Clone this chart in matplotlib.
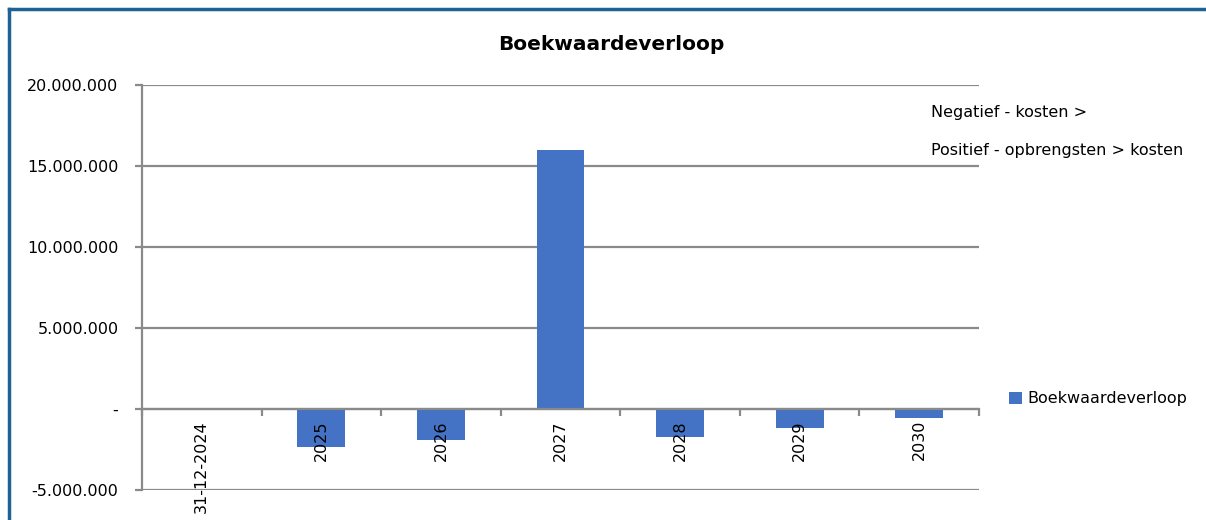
import matplotlib.pyplot as plt
from matplotlib.lines import Line2D
from matplotlib.ticker import FuncFormatter, FixedLocator

# --- DATA ---
categories = ["31-12-2024", "2025", "2026", "2027", "2028", "2029", "2030"]
boekwaarde = [0, -2350000, -1900000, 16000000, -1700000, -1150000, -550000]
series_name = "Boekwaardeverloop"
y_ticks = [-5000000, 0, 5000000, 10000000, 15000000, 20000000]

plt.rcParams['font.family'] = ['DejaVu Sans']
W, H = 1206, 520
grid_col = '#8a8a8a'
bar_col = '#4472C4'
fs = 11.5

fig = plt.figure(figsize=(W / 100, H / 100), dpi=100)
ax = fig.add_axes([142 / W, 30 / H, 837 / W, 405 / H])

x = list(range(len(categories)))
bars = ax.bar(x, boekwaarde, width=0.4, color=bar_col, label=series_name, zorder=3)

ax.set_xlim(-0.5, len(categories) - 0.5)
ax.set_ylim(-5000000, 20000000)


def fmt(v, pos):
    if v == 0:
        return "-"
    return f"{int(v):,}".replace(",", ".")


ax.set_yticks(y_ticks)
ax.yaxis.set_major_formatter(FuncFormatter(fmt))
ax.yaxis.grid(True, color=grid_col, linewidth=1.6, zorder=0)
ax.tick_params(axis='y', length=5, width=1.6, color=grid_col, labelsize=fs, pad=12)

# category axis crosses at zero
for s in ['top', 'right']:
    ax.spines[s].set_visible(False)
ax.spines['left'].set_color(grid_col)
ax.spines['left'].set_linewidth(1.6)
ax.spines['bottom'].set_position(('data', 0))
ax.spines['bottom'].set_color(grid_col)
ax.spines['bottom'].set_linewidth(1.6)
ax.spines['bottom'].set_zorder(4)

ax.set_xticks(x)
ax.set_xticklabels(categories, rotation=90, va='top')
ax.tick_params(axis='x', which='major', length=0, labelsize=fs, pad=8)
ax.xaxis.set_minor_locator(FixedLocator([i - 0.5 for i in range(len(categories) + 1)]))
ax.tick_params(axis='x', which='minor', length=5, width=1.6, color=grid_col)
ax.xaxis.set_zorder(5)

fig.text(611 / W, 1 - 44 / H, "Boekwaardeverloop", ha='center', va='center',
         fontsize=14.5, fontweight='bold')

fig.text(931 / W, 1 - 112 / H, "Negatief - kosten >", ha='left', va='center', fontsize=fs)
fig.text(931 / W, 1 - 150 / H, "Positief - opbrengsten > kosten", ha='left', va='center', fontsize=fs)

fig.legend(handles=[bars], labels=[series_name], loc='center left',
           bbox_to_anchor=(995 / W, 1 - 399 / H), frameon=False, fontsize=fs,
           handlelength=0.8, handleheight=0.8, handletextpad=0.3)

# outer frame
frame_col = '#1f6391'
fig.add_artist(Line2D([9 / W, 9 / W], [0, 1 - 9 / H], color=frame_col, linewidth=2.5,
                      transform=fig.transFigure))
fig.add_artist(Line2D([9 / W, 1], [1 - 9 / H, 1 - 9 / H], color=frame_col, linewidth=2.5,
                      transform=fig.transFigure))

fig.savefig("out.png", dpi=100)
